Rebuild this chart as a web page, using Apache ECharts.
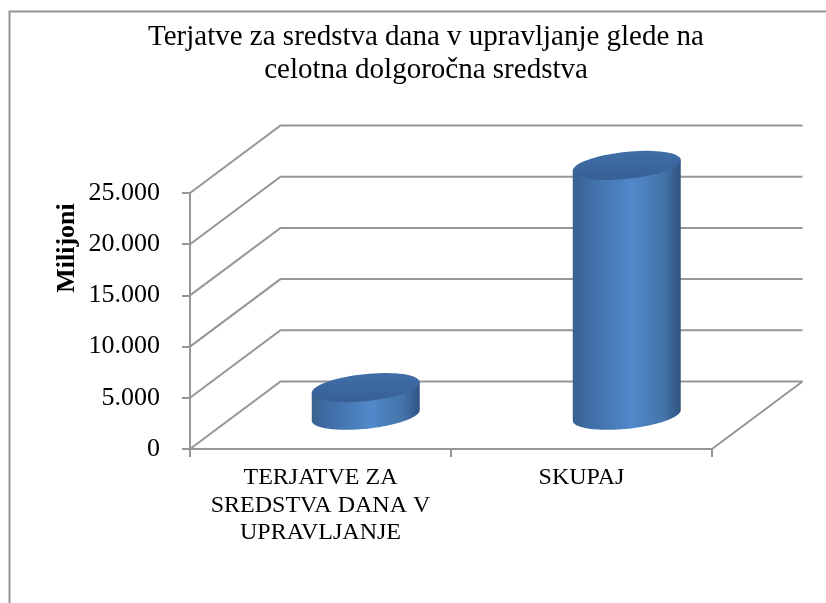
<!DOCTYPE html>
<html>
<head>
<meta charset="utf-8">
<style>
  html, body { margin: 0; padding: 0; background: #fff; }
  #main { width: 826px; height: 603px; }
</style>
<script src="https://cdn.jsdelivr.net/npm/echarts@6/dist/echarts.min.js"></script>
</head>
<body>
<div id="main"></div>
<script>
// podatki
var categories = ['TERJATVE ZA\nSREDSTVA DANA V\nUPRAVLJANJE', 'SKUPAJ'];
var values = [2700, 24400];
var yTicks = [0, 5000, 10000, 15000, 20000, 25000];

var FONT = '"Liberation Serif", "Times New Roman", serif';
var LINE = '#969696';
// zamik zadnje stene (navidezni 3D)
var DEPTH_X = 90.5;
var DEPTH_Y = 67.5;
var TILT = 6 * Math.PI / 180;

var myChart = echarts.init(document.getElementById('main'));

// tocka na nagnjeni elipsi
function ellipsePoint(cx, cy, rx, ry, t) {
  var px = rx * Math.cos(t);
  var py = ry * Math.sin(t);
  return [
    cx + px * Math.cos(TILT) + py * Math.sin(TILT),
    cy - px * Math.sin(TILT) + py * Math.cos(TILT)
  ];
}

function ellipseArc(cx, cy, rx, ry, from, to) {
  var pts = [];
  for (var i = 0; i <= 72; i++) {
    pts.push(ellipsePoint(cx, cy, rx, ry, from + (to - from) * i / 72));
  }
  return pts;
}

// mreza: stranska in zadnja stena, tla
function renderWall(params, api) {
  var sys = params.coordSys;
  var y = api.coord([0, api.value(1)])[1];
  var left = sys.x;
  var right = sys.x + sys.width;
  var children = [{
    type: 'polyline',
    shape: { points: [[left, y], [left + DEPTH_X, y - DEPTH_Y], [right + DEPTH_X, y - DEPTH_Y]] },
    style: { fill: null, stroke: LINE, lineWidth: 2 }
  }];
  if (api.value(1) === 0) {
    children.push({
      type: 'line',
      shape: { x1: right, y1: y, x2: right + DEPTH_X, y2: y - DEPTH_Y },
      style: { stroke: LINE, lineWidth: 2 }
    });
  }
  return { type: 'group', children: children };
}

// valj
function renderCylinder(params, api) {
  var base = api.coord([api.value(0), 0]);
  var top = api.coord([api.value(0), api.value(1)]);
  var band = api.size([1, 0])[0];
  var cx = base[0] + DEPTH_X / 2;
  var rx = band * 0.208;
  var ry = 13.5;
  var bottomY = base[1] - DEPTH_Y / 2;
  var topY = top[1] - DEPTH_Y / 2;
  var arc = ellipseArc(cx, bottomY, rx, ry, 0, Math.PI);
  var body = [ellipsePoint(cx, topY, rx, ry, 0)].concat(arc, [ellipsePoint(cx, topY, rx, ry, Math.PI)]);
  return {
    type: 'group',
    children: [{
      type: 'polygon',
      shape: { points: body },
      style: {
        fill: new echarts.graphic.LinearGradient(0, 0, 1, 0, [
          { offset: 0, color: '#38628f' },
          { offset: 0.15, color: '#3f6da5' },
          { offset: 0.55, color: '#5189ca' },
          { offset: 0.85, color: '#4373a8' },
          { offset: 1, color: '#2f5382' }
        ])
      }
    }, {
      type: 'polygon',
      shape: { points: ellipseArc(cx, topY, rx, ry, 0, Math.PI * 2) },
      style: {
        fill: new echarts.graphic.LinearGradient(0, 0, 0, 1, [
          { offset: 0, color: '#3f6ea8' },
          { offset: 1, color: '#376096' }
        ])
      }
    }]
  };
}

var option = {
  animation: false,
  backgroundColor: '#fff',
  title: {
    text: 'Terjatve za sredstva dana v upravljanje glede na\ncelotna dolgoročna sredstva',
    left: 421,
    top: 16,
    textAlign: 'center',
    textStyle: {
      fontFamily: FONT,
      fontSize: 29,
      fontWeight: 'normal',
      color: '#000',
      lineHeight: 33
    }
  },
  grid: { left: 190, right: 114, top: 193, bottom: 154 },
  xAxis: {
    type: 'category',
    data: categories,
    axisLine: { lineStyle: { color: LINE, width: 2 } },
    axisTick: { show: true, length: 8, lineStyle: { color: LINE, width: 2 } },
    axisLabel: {
      interval: 0,
      margin: 15,
      color: '#000',
      fontFamily: FONT,
      fontSize: 24,
      lineHeight: 27.5
    }
  },
  yAxis: {
    type: 'value',
    min: 0,
    max: 25000,
    interval: 5000,
    splitLine: { show: false },
    axisLine: { show: true, lineStyle: { color: LINE, width: 2 } },
    axisTick: { show: true, length: 8, lineStyle: { color: LINE, width: 2 } },
    axisLabel: {
      margin: 30,
      color: '#000',
      fontFamily: FONT,
      fontSize: 26,
      formatter: function (v) {
        return String(v).replace(/\B(?=(\d{3})+$)/g, '.');
      }
    }
  },
  graphic: [{
    type: 'polyline',
    silent: true,
    shape: { points: [[9.5, 603], [9.5, 11.5], [826, 11.5]] },
    style: { fill: null, stroke: LINE, lineWidth: 2 }
  }, {
    type: 'text',
    silent: true,
    x: 67,
    y: 248,
    rotation: Math.PI / 2,
    style: {
      text: 'Milijoni',
      fontFamily: FONT,
      fontSize: 26,
      fontWeight: 'bold',
      fill: '#000',
      align: 'center',
      verticalAlign: 'middle'
    }
  }],
  series: [{
    type: 'custom',
    name: 'mreza',
    silent: true,
    clip: false,
    z: 1,
    renderItem: renderWall,
    encode: { x: 0, y: 1 },
    data: yTicks.map(function (t) { return [0, t]; })
  }, {
    type: 'custom',
    name: 'Milijoni',
    clip: false,
    z: 3,
    renderItem: renderCylinder,
    encode: { x: 0, y: 1 },
    data: values.map(function (v, i) { return [i, v]; })
  }]
};

myChart.setOption(option);
</script>
</body>
</html>
